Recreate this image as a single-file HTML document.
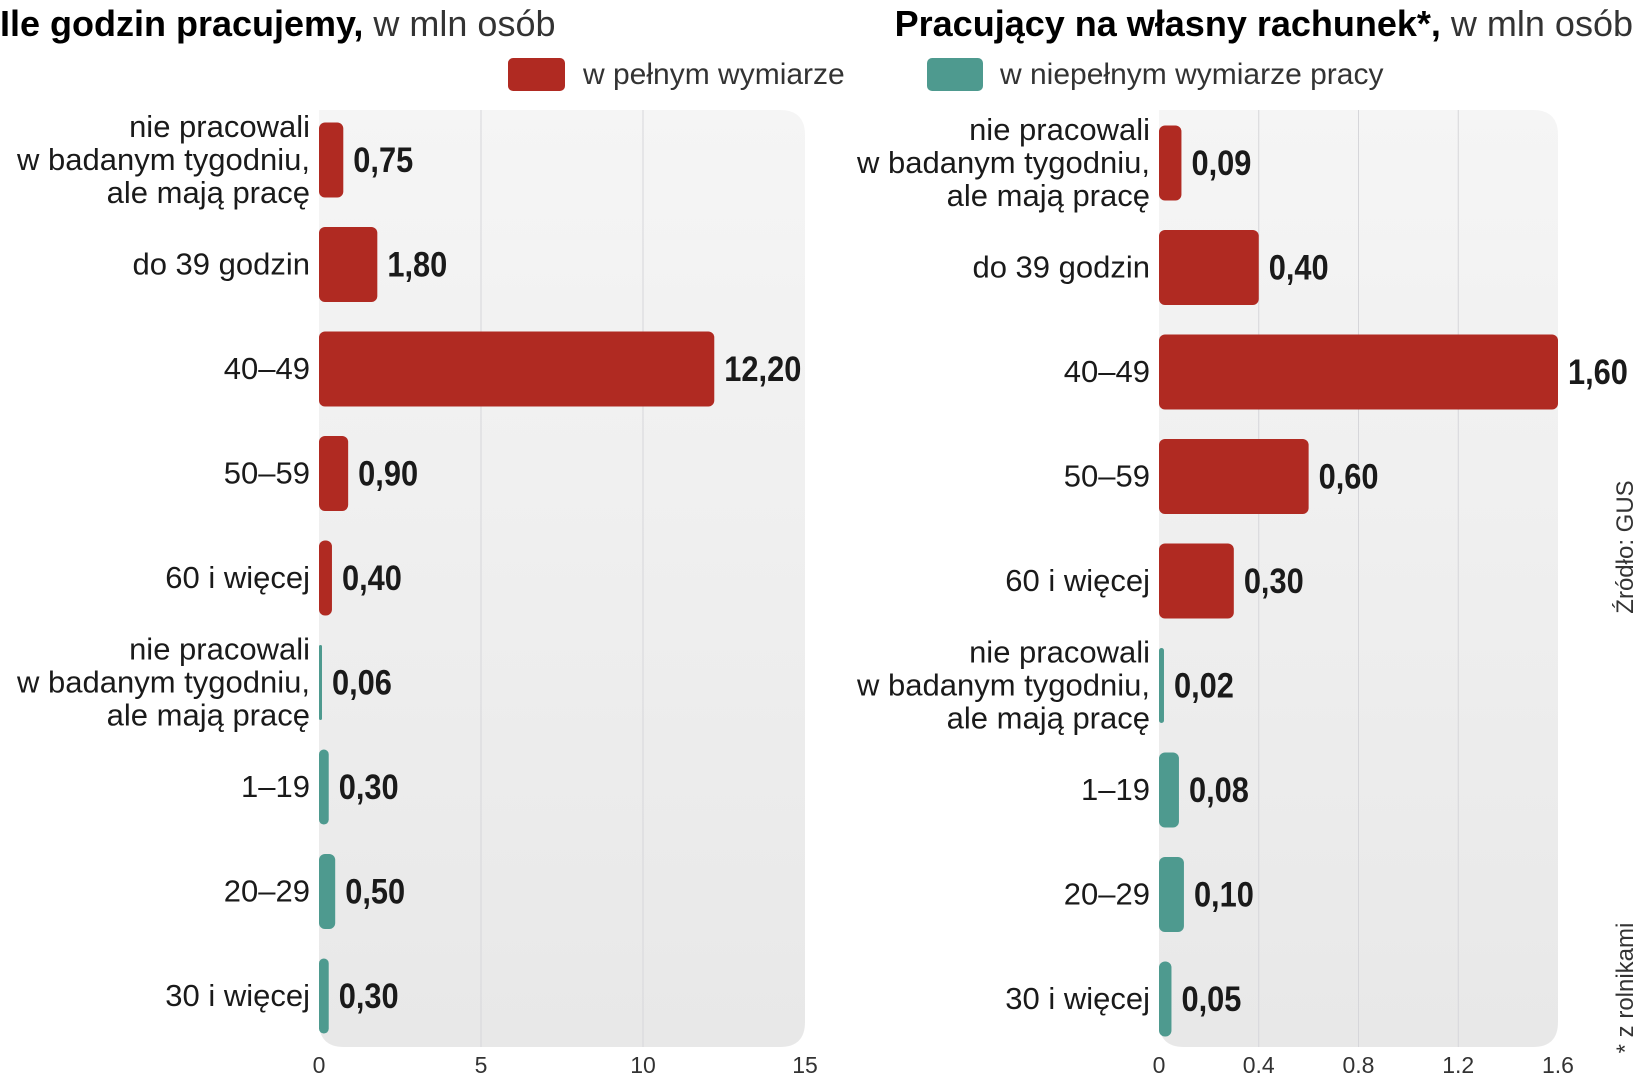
<!DOCTYPE html>
<html><head><meta charset="utf-8">
<style>
html,body{margin:0;padding:0;background:#fff;}
svg{display:block;font-family:"Liberation Sans",sans-serif;}
.lbl{font-size:31px;fill:#1a1a1a;text-anchor:end;}
.val{font-family:"Liberation Sans Narrow","Liberation Sans",sans-serif;font-weight:bold;font-size:35px;fill:#1a1a1a;}
.tick{font-size:23px;fill:#333;text-anchor:middle;}
</style></head>
<body>
<svg id="chart" width="1642" height="1080" viewBox="0 0 1642 1080">
<defs>
<linearGradient id="bg" x1="0" y1="0" x2="0" y2="1"><stop offset="0" stop-color="#f5f5f5"/><stop offset="1" stop-color="#e8e8e8"/></linearGradient>
</defs>
<text x="0" y="36" style="font-size:36px"><tspan font-weight="bold" font-family="Liberation Sans Narrow, Liberation Sans, sans-serif">Ile godzin pracujemy,</tspan><tspan fill="#333"> w mln osób</tspan></text>
<text x="1633" y="36" style="font-size:36px" text-anchor="end"><tspan font-weight="bold" font-family="Liberation Sans Narrow, Liberation Sans, sans-serif">Pracujący na własny rachunek*,</tspan><tspan fill="#333"> w mln osób</tspan></text>
<g>
<rect x="508" y="58" width="57" height="33" rx="5" fill="#b02a22"/>
<text x="583" y="84" style="font-size:30px" fill="#333">w pełnym wymiarze</text>
<rect x="927" y="58" width="56" height="33" rx="5" fill="#4e9a8f"/>
<text x="1000" y="84" style="font-size:30px" fill="#333">w niepełnym wymiarze pracy</text>
</g>
<text transform="translate(1633,547) rotate(-90)" text-anchor="middle" style="font-size:24px" fill="#333">Źródło: GUS</text>
<text transform="translate(1633,988) rotate(-90)" text-anchor="middle" style="font-size:24px" fill="#333">* z rolnikami</text>
<g id="left"></g>
<g id="right"></g>
</svg>
<script>
const categories = [["nie pracowali","w badanym tygodniu,","ale mają pracę"],["do 39 godzin"],["40–49"],["50–59"],["60 i więcej"],["nie pracowali","w badanym tygodniu,","ale mają pracę"],["1–19"],["20–29"],["30 i więcej"]];
const seriesType = ["full","full","full","full","full","part","part","part","part"];
const leftValues = [0.75,1.80,12.20,0.90,0.40,0.06,0.30,0.50,0.30];
const leftLabels = ["0,75","1,80","12,20","0,90","0,40","0,06","0,30","0,50","0,30"];
const leftTicks = [0,5,10,15];
const leftTickLabels = ["0","5","10","15"];
const rightValues = [0.09,0.40,1.60,0.60,0.30,0.02,0.08,0.10,0.05];
const rightLabels = ["0,09","0,40","1,60","0,60","0,30","0,02","0,08","0,10","0,05"];
const rightTicks = [0,0.4,0.8,1.2,1.6];
const rightTickLabels = ["0","0.4","0.8","1.2","1.6"];
const NS="http://www.w3.org/2000/svg";
function mk(tag,attrs,parent){const e=document.createElementNS(NS,tag);for(const k in attrs)e.setAttribute(k,attrs[k]);parent.appendChild(e);return e;}
function draw(g,x0,x1,max,top,firstC,values,labels,ticks,tickLabels,prefix){
  const xs=v=>x0+(x1-x0)*v/max;
  const step=104.5, bh=75;
  const ys=i=>firstC+i*step;
  const bg=mk('path',{d:`M${x0},${top} H${x1-25} Q${x1},${top} ${x1},${top+25} V1022 Q${x1},1047 ${x1-25},1047 H${x0+25} Q${x0},1047 ${x0},1022 Z`,fill:'url(#bg)'},g);
  
  
  ticks.forEach((t,i)=>{
    if(i>0&&i<ticks.length-1){
      const l=mk('line',{x1:xs(t),x2:xs(t),y1:top,y2:1047,stroke:'#d6d6da','stroke-width':1},g);
      
      
    }
    const tx=mk('text',{x:xs(t),y:1073,class:'tick'},g);tx.textContent=tickLabels[i];
    
    
  });
  values.forEach((v,i)=>{
    const cy=ys(i);
    const w=Math.max(xs(v)-x0,3);
    const r=mk('rect',{x:x0,y:cy-bh/2,width:w,height:bh,rx:Math.min(6,w/2),fill:seriesType[i]==='full'?'#b02a22':'#4e9a8f'},g);
    
    
    const vx=x0+w+10;
    const t=mk('text',{x:0,y:0,class:'val',transform:`translate(${vx},${cy+12}) scale(0.88,1)`},g);t.textContent=labels[i];
    
    
    const lines=categories[i];
    const lt=mk('text',{x:x0-9,class:'lbl'},g);
    
    
    lines.forEach((s,j)=>{const ts=mk('tspan',{x:x0-9,y:cy+10+(j-(lines.length-1)/2)*33},lt);ts.textContent=s;});
  });
}
draw(document.getElementById('left'),319,805,15,110,160,leftValues,leftLabels,leftTicks,leftTickLabels,'left');
draw(document.getElementById('right'),1159,1558,1.6,110,163,rightValues,rightLabels,rightTicks,rightTickLabels,'right');
</script>
</body></html>
